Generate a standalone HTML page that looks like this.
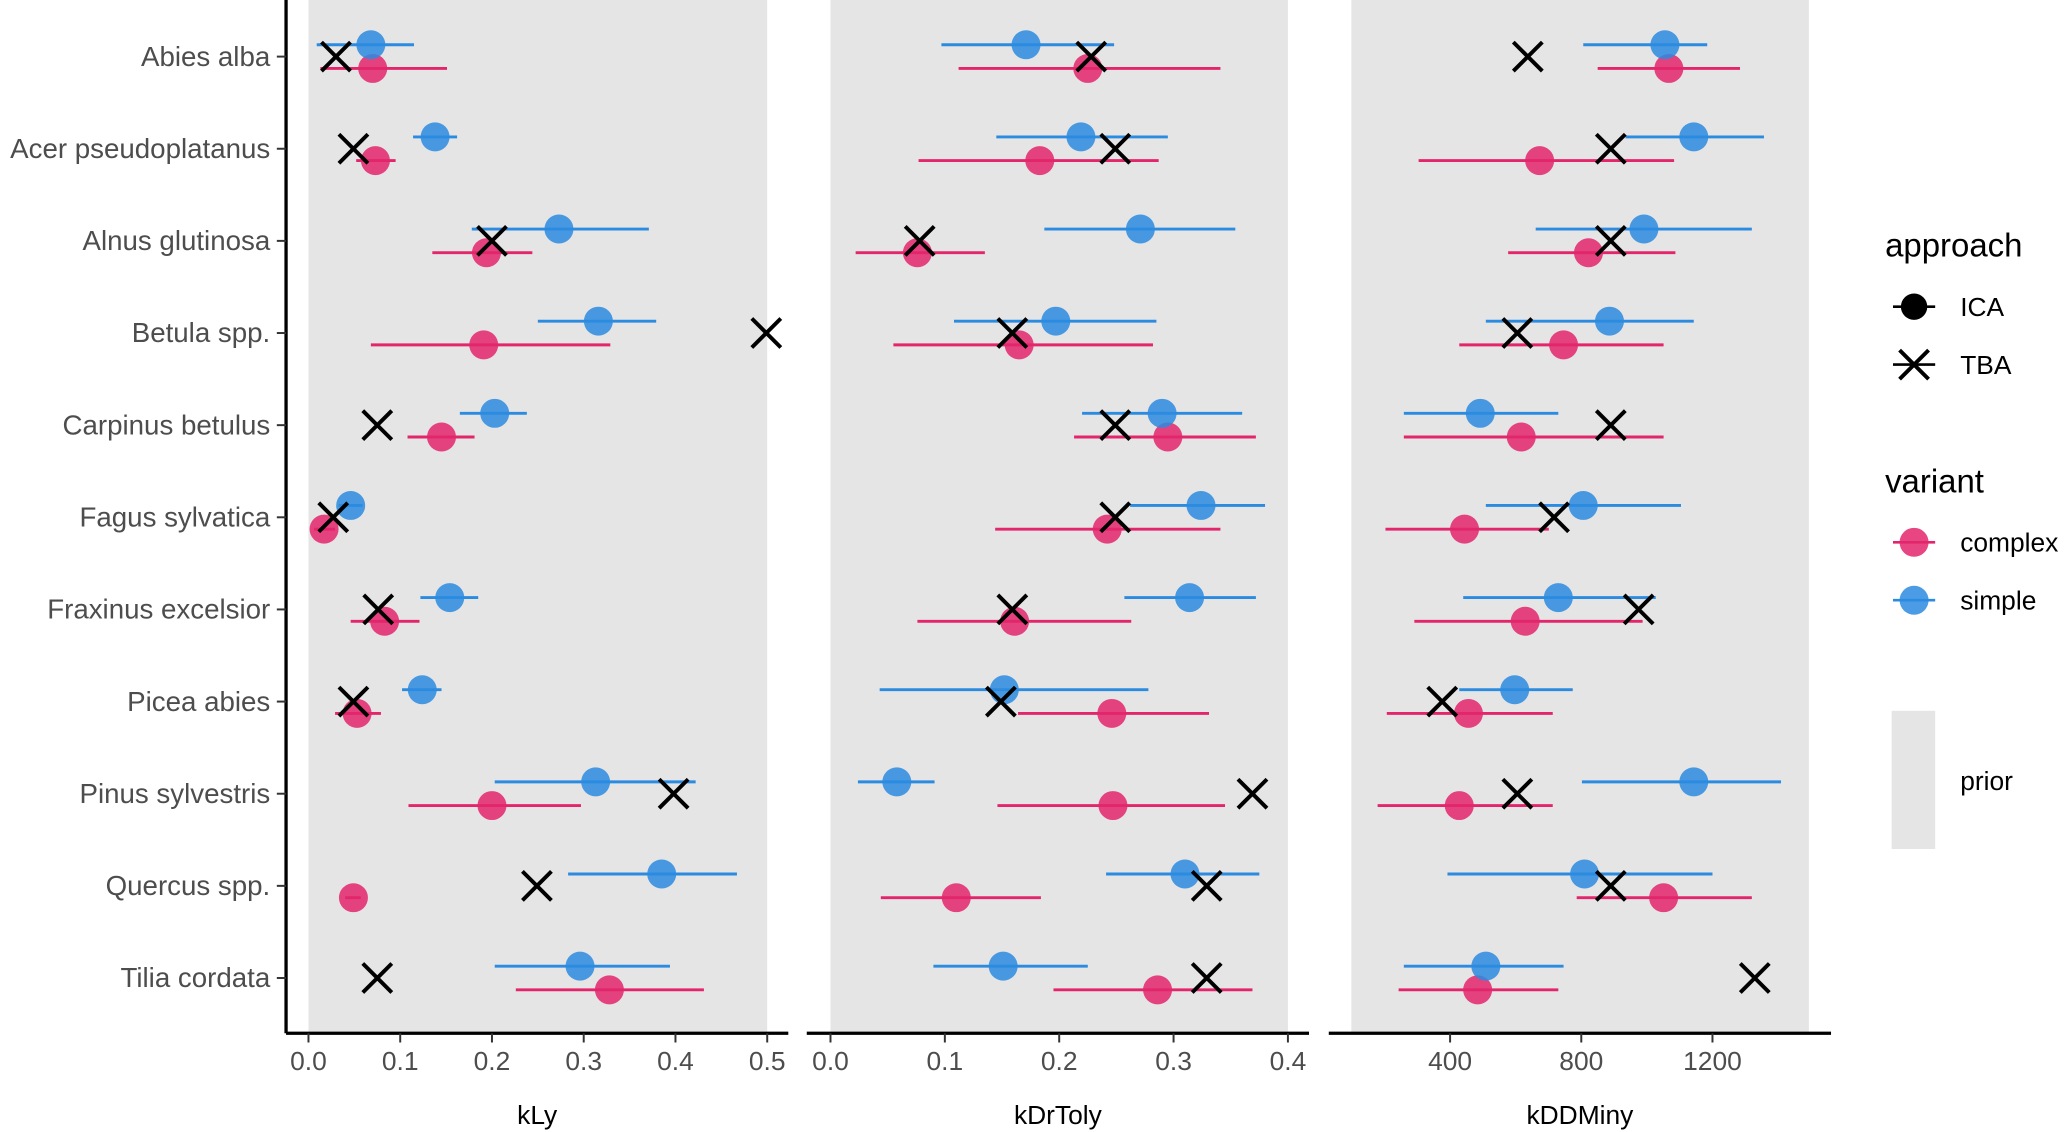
<!DOCTYPE html>
<html><head><meta charset="utf-8"><style>
html,body{margin:0;padding:0;background:#fff;}
svg{display:block;font-family:"Liberation Sans",Arial,sans-serif;}
</style></head><body>
<svg id="chart" width="2067" height="1132" viewBox="0 0 1568 860" preserveAspectRatio="none" xmlns="http://www.w3.org/2000/svg">
<g id="bgs"></g><g id="marks"></g><g id="axes"></g>
<g>
  <text x="1430" y="195" font-size="25" fill="#000">approach</text>
  <line x1="1436" y1="233" x2="1468" y2="233" stroke="#000" stroke-width="2"/>
  <circle cx="1452" cy="233" r="10" fill="#000"/>
  <text x="1487" y="240" font-size="20" fill="#000">ICA</text>
  <line x1="1436" y1="277" x2="1468" y2="277" stroke="#000" stroke-width="2"/>
  <path d="M1441 266 L1463 288 M1463 266 L1441 288" stroke="#000" stroke-width="3"/>
  <text x="1487" y="284" font-size="20" fill="#000">TBA</text>
  <text x="1430" y="374" font-size="25" fill="#000">variant</text>
  <line x1="1436" y1="412" x2="1468" y2="412" stroke="#e3266c" stroke-width="2"/>
  <circle cx="1452" cy="412" r="11" fill="#e3266c" fill-opacity="0.85"/>
  <text x="1487" y="419" font-size="20" fill="#000">complex</text>
  <line x1="1436" y1="456" x2="1468" y2="456" stroke="#2b8be0" stroke-width="2"/>
  <circle cx="1452" cy="456" r="11" fill="#2b8be0" fill-opacity="0.85"/>
  <text x="1487" y="463" font-size="20" fill="#000">simple</text>
  <rect x="1435" y="540" width="33" height="105" fill="#e5e5e5"/>
  <text x="1487" y="600" font-size="20" fill="#000">prior</text>
</g>
</svg>
<script>
const species = ["Abies alba","Acer pseudoplatanus","Alnus glutinosa","Betula spp.","Carpinus betulus","Fagus sylvatica","Fraxinus excelsior","Picea abies","Pinus sylvestris","Quercus spp.","Tilia cordata"];
// kLy
const kLySimple   = [0.068,0.138,0.273,0.316,0.203,0.046,0.154,0.124,0.313,0.385,0.296];
const kLySimpleLo = [0.009,0.114,0.178,0.250,0.165,0.033,0.122,0.102,0.203,0.283,0.203];
const kLySimpleHi = [0.115,0.162,0.371,0.379,0.238,0.059,0.185,0.145,0.422,0.467,0.394];
const kLyComplex   = [0.070,0.073,0.194,0.191,0.145,0.017,0.083,0.053,0.200,0.049,0.328];
const kLyComplexLo = [0.013,0.052,0.135,0.068,0.108,0.006,0.046,0.029,0.109,0.040,0.226];
const kLyComplexHi = [0.151,0.095,0.244,0.329,0.181,0.029,0.121,0.079,0.297,0.057,0.431];
const kLyTBA = [0.030,0.049,0.200,0.499,0.075,0.027,0.076,0.049,0.398,0.249,0.075];
// kDrToly
const kDrSimple   = [0.171,0.219,0.271,0.197,0.290,0.324,0.314,0.152,0.058,0.310,0.151];
const kDrSimpleLo = [0.097,0.145,0.187,0.108,0.220,0.262,0.257,0.043,0.024,0.241,0.090];
const kDrSimpleHi = [0.248,0.295,0.354,0.285,0.360,0.380,0.372,0.278,0.091,0.375,0.225];
const kDrComplex   = [0.225,0.183,0.076,0.165,0.295,0.242,0.161,0.246,0.247,0.110,0.286];
const kDrComplexLo = [0.112,0.077,0.022,0.055,0.213,0.144,0.076,0.164,0.146,0.044,0.195];
const kDrComplexHi = [0.341,0.287,0.135,0.282,0.372,0.341,0.263,0.331,0.345,0.184,0.369];
const kDrTBA = [0.228,0.249,0.078,0.159,0.249,0.249,0.159,0.149,0.369,0.329,0.329];
// kDDMiny
const kDDSimple   = [1055,1143,991,886,492,806,730,597,1143,810,509];
const kDDSimpleLo = [806,935,661,509,259,509,440,428,802,392,259];
const kDDSimpleHi = [1184,1357,1320,1143,730,1104,1027,774,1409,1200,746];
const kDDComplex   = [1067,673,822,746,617,444,629,456,428,1051,484];
const kDDComplexLo = [850,304,577,428,259,203,291,207,179,786,243];
const kDDComplexHi = [1284,1083,1087,1051,1051,701,987,713,713,1320,730];
const kDDTBA = [637,890,890,605,890,717,975,376,605,890,1329];

const kLyTicks = [0,0.1,0.2,0.3,0.4,0.5];
const kLyTickLabels = ["0.0","0.1","0.2","0.3","0.4","0.5"];
const kDrTicks = [0,0.1,0.2,0.3,0.4];
const kDrTickLabels = ["0.0","0.1","0.2","0.3","0.4"];
const kDDTicks = [400,800,1200];
const kDDTickLabels = ["400","800","1200"];

const NS="http://www.w3.org/2000/svg";
function mk(tag, attrs, parent){const e=document.createElementNS(NS,tag);for(const k in attrs)e.setAttribute(k,attrs[k]);parent.appendChild(e);return e;}
const bgs=document.getElementById('bgs'), marks=document.getElementById('marks'), axes=document.getElementById('axes');
const yRow = i => 43 + i*70;
const AXY = 785;

const panels = [
 {name:"kly", title:"kLy", x:v=>234+696*v, bg:[0,0.5], line:[217,598], ticks:kLyTicks, labels:kLyTickLabels,
  s:kLySimple,sl:kLySimpleLo,sh:kLySimpleHi,c:kLyComplex,cl:kLyComplexLo,ch:kLyComplexHi,t:kLyTBA},
 {name:"kdrtoly", title:"kDrToly", x:v=>630+867.5*v, bg:[0,0.4], line:[612,993], ticks:kDrTicks, labels:kDrTickLabels,
  s:kDrSimple,sl:kDrSimpleLo,sh:kDrSimpleHi,c:kDrComplex,cl:kDrComplexLo,ch:kDrComplexHi,t:kDrTBA},
 {name:"kddminy", title:"kDDMiny", x:v=>1000.5+0.2488*v, bg:[99,1494], line:[1008,1389], ticks:kDDTicks, labels:kDDTickLabels,
  s:kDDSimple,sl:kDDSimpleLo,sh:kDDSimpleHi,c:kDDComplex,cl:kDDComplexLo,ch:kDDComplexHi,t:kDDTBA}
];

panels.forEach(p=>{
  const bx0=p.x(p.bg[0]), bx1=p.x(p.bg[1]);
  const r=mk('rect',{x:bx0,y:0,width:bx1-bx0,height:AXY,fill:'#e5e5e5'},bgs);
  
  
  const ax=mk('line',{x1:p.line[0],x2:p.line[1],y1:AXY,y2:AXY,stroke:'#000','stroke-width':2.5},axes);
  
  
  p.ticks.forEach((tv,k)=>{
    const tx=p.x(tv);
    mk('line',{x1:tx,x2:tx,y1:AXY,y2:AXY+7,stroke:'#333','stroke-width':1.5},axes);
    const tl=mk('text',{x:tx,y:AXY+28,'font-size':20,'text-anchor':'middle',fill:'#4d4d4d'},axes);
    tl.textContent=p.labels[k];
    
    
  });
  const at=mk('text',{x:(p.line[0]+p.line[1])/2,y:854,'font-size':20,'text-anchor':'middle',fill:'#000'},axes);
  at.textContent=p.title;
  
  

  species.forEach((sp,i)=>{
    const y=yRow(i);
    [[p.c,p.cl,p.ch,'#e3266c',9,'complex'],[p.s,p.sl,p.sh,'#2b8be0',-9,'simple']].forEach(([m,lo,hi,col,dy,nm])=>{
      const l=mk('line',{x1:p.x(lo[i]),x2:p.x(hi[i]),y1:y+dy,y2:y+dy,stroke:col,'stroke-width':2.2},marks);
      
      
      const c=mk('circle',{cx:p.x(m[i]),cy:y+dy,r:11,fill:col,'fill-opacity':0.85},marks);
      
      
    });
    const tx=p.x(p.t[i]);
    const x=mk('path',{d:`M${tx-11} ${y-11} L${tx+11} ${y+11} M${tx+11} ${y-11} L${tx-11} ${y+11}`,stroke:'#000','stroke-width':3},marks);
    
    
  });
});

// y axis
const ya=mk('line',{x1:217,x2:217,y1:0,y2:AXY,stroke:'#000','stroke-width':2.5},axes);


species.forEach((sp,i)=>{
  const y=yRow(i);
  mk('line',{x1:210,x2:217,y1:y,y2:y,stroke:'#333','stroke-width':1.5},axes);
  const t=mk('text',{x:205,y:y+7,'font-size':21,'text-anchor':'end',fill:'#4d4d4d'},axes);
  t.textContent=sp;
  
  
});
</script>
</body></html>
